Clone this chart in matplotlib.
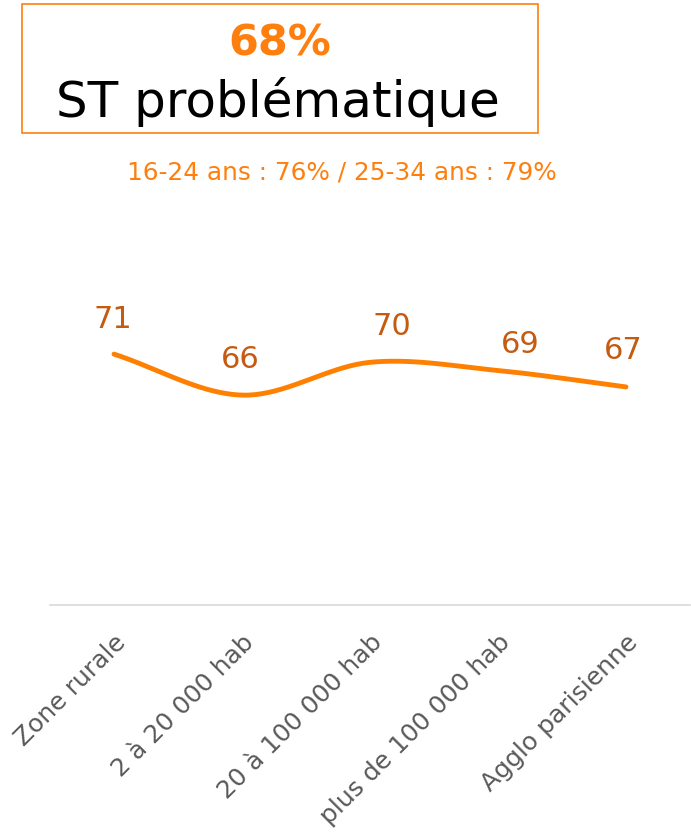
import numpy as np
import matplotlib
matplotlib.use("Agg")
import matplotlib.pyplot as plt
from matplotlib.patches import Rectangle

plt.rcParams["font.family"] = ["DejaVu Sans"]

# Data
categories = ["Zone rurale", "2 à 20 000 hab", "20 à 100 000 hab",
              "plus de 100 000 hab", "Agglo parisienne"]
values = [71, 66, 70, 69, 67]
headline = "68%"
title = "ST problématique"
subtitle = "16-24 ans : 76% / 25-34 ans : 79%"

ORANGE = "#FF7F0E"
LINE = "#FF8000"
LABEL = "#C55A11"
GREY = "#595959"

W, H = 691, 838
fig = plt.figure(figsize=(W / 100, H / 100), dpi=100)

# header box
fig.patches.append(Rectangle((22 / W, 1 - 133 / H), (538 - 22) / W, (133 - 4) / H,
                             transform=fig.transFigure, fill=False,
                             edgecolor=ORANGE, linewidth=1.2))
fig.text(280 / W, 1 - 43 / H, headline, ha="center", va="center",
         fontsize=31, fontweight="bold", color=ORANGE)
fig.text(278 / W, 1 - 102 / H, title, ha="center", va="center",
         fontsize=36, color="black")
fig.text(342 / W, 1 - 173 / H, subtitle, ha="center", va="center",
         fontsize=17.8, color=ORANGE)

# plot area
ax_left, ax_right = 50, 690
ax_top, ax_bottom = 200, 605
ax = fig.add_axes([ax_left / W, 1 - ax_bottom / H,
                   (ax_right - ax_left) / W, (ax_bottom - ax_top) / H])

x = np.arange(len(values))
y = np.array(values, dtype=float)

# smooth curve (Catmull-Rom through the points)
pts = np.column_stack([x, y])
ext = np.vstack([pts[0] - (pts[1] - pts[0]), pts, pts[-1] + (pts[-1] - pts[-2])])
xs, ys = [], []
t = np.linspace(0, 1, 40)
for i in range(1, len(ext) - 2):
    p0, p1, p2, p3 = ext[i - 1], ext[i], ext[i + 1], ext[i + 2]
    seg = 0.5 * ((2 * p1)[None, :] + (-p0 + p2)[None, :] * t[:, None]
                 + (2 * p0 - 5 * p1 + 4 * p2 - p3)[None, :] * t[:, None] ** 2
                 + (-p0 + 3 * p1 - 3 * p2 + p3)[None, :] * t[:, None] ** 3)
    xs.extend(seg[:, 0])
    ys.extend(seg[:, 1])
ax.plot(xs, ys, color=LINE, linewidth=3.5, solid_capstyle="round")

# data labels
offsets = [(-1, 25), (-1, 26), (16, 26), (16, 19), (-2, 26)]
for xi, yi, (dx, dy) in zip(x, y, offsets):
    ax.annotate(f"{int(yi)}", (xi, yi), xytext=(dx, dy), textcoords="offset points",
                ha="center", va="center", fontsize=22, color=LABEL)

ax.set_xlim(-0.5, len(values) - 0.5)
ax.set_ylim(40.4, 89.8)
ax.set_yticks([])
ax.set_xticks(x)
ax.set_xticklabels(categories, rotation=45, ha="right", rotation_mode="anchor",
                   fontsize=18, color=GREY)
ax.tick_params(axis="x", length=0, pad=18)
for s in ["top", "left", "right"]:
    ax.spines[s].set_visible(False)
ax.spines["bottom"].set_color("#D9D9D9")
ax.spines["bottom"].set_linewidth(1.2)
ax.patch.set_alpha(0)

fig.savefig("out.png", dpi=100)
